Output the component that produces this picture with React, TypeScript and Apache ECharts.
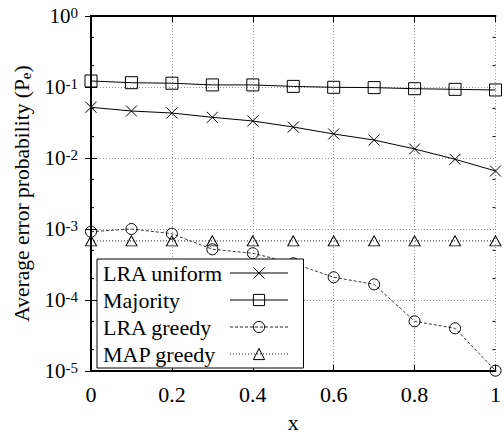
import React, { useEffect, useRef } from "react";
import * as echarts from "echarts";

const xValues = [0, 0.1, 0.2, 0.3, 0.4, 0.5, 0.6, 0.7, 0.8, 0.9, 1];
const lraUniform = [0.0518, 0.0459, 0.043, 0.0374, 0.0332, 0.0273, 0.0218, 0.0179, 0.0134, 0.0096, 0.00656];
const majority = [0.1215, 0.115, 0.113, 0.107, 0.107, 0.102, 0.099, 0.098, 0.0946, 0.0927, 0.0908];
const lraGreedy = [0.000916, 0.001, 0.000859, 0.000518, 0.000455, 0.000329, 0.000209, 0.000166, 0.0000501, 0.0000399, 0.0000101];
const mapGreedy = [0.00068, 0.00068, 0.00068, 0.00068, 0.00068, 0.00068, 0.00068, 0.00068, 0.00068, 0.00068, 0.00068];
const seriesNames = ["LRA uniform", "Majority", "LRA greedy", "MAP greedy"];
const yMin = 1e-5;
const yMax = 1;
const xMin = 0;
const xMax = 1;
const xInterval = 0.2;
const minorMultipliers = [2, 5];
const decadeExponents = [-5, -4, -3, -2, -1];

const FONT = "'Liberation Serif', 'DejaVu Serif', serif";
const CROSS = "path://M0,0L10,10M0,10L10,0";
const CLEAR = "rgba(255,255,255,0)";

export default function App() {
  const ref = useRef<HTMLDivElement>(null);
  useEffect(() => {
    if (!ref.current) return;
    const chart = echarts.init(ref.current, null, { renderer: "svg" });
    const pairs = (vals: number[]) => xValues.map((x, i) => [x, vals[i]]);
    const minorValues: number[] = [];
    decadeExponents.forEach((e) => minorMultipliers.forEach((m) => minorValues.push(m * Math.pow(10, e))));

    const yLabel = (v: number) => {
      const e = Math.round(Math.log10(v));
      return `{b|10}{s|${e}}`;
    };
    const yRich = {
      b: { fontSize: 21, fontFamily: FONT, color: "#000", lineHeight: 21, padding: [5, 0, 0, 0], verticalAlign: "bottom" },
      s: { fontSize: 15, fontFamily: FONT, color: "#000", lineHeight: 18, verticalAlign: "top" },
    };
    const gridLine = { show: true, lineStyle: { color: "#999", type: [1, 2], width: 1 } };
    const axisLine = { show: true, lineStyle: { color: "#000", width: 2 } };
    const tick = { show: true, inside: true, length: 6, lineStyle: { color: "#000", width: 1 } };

    const option: any = {
      animation: false,
      backgroundColor: "#fff",
      grid: { left: 84, right: 5, top: 16, bottom: 68 },
      legend: {
        data: seriesNames,
        orient: "vertical",
        left: 97,
        top: 259,
        align: "right",
        itemWidth: 58,
        itemHeight: 14,
        itemGap: 5,
        padding: [3, 15, 3, 6],
        borderColor: "#000",
        borderWidth: 1,
        backgroundColor: "#fff",
        selectedMode: false,
        lineStyle: { width: 1 },
        itemStyle: { borderWidth: 1 },
        formatter: (n: string) => `{t|${n}}`,
        textStyle: {
          fontSize: 22,
          fontFamily: FONT,
          color: "#000",
          rich: { t: { width: 122, align: "left", fontSize: 22, fontFamily: FONT, color: "#000", lineHeight: 22 } },
        },
      },
      xAxis: [
        {
          type: "value",
          min: xMin,
          max: xMax,
          interval: xInterval,
          position: "bottom",
          name: "x",
          nameLocation: "middle",
          nameGap: 40,
          nameTextStyle: { fontSize: 22, fontFamily: FONT, color: "#000" },
          axisLine,
          axisTick: tick,
          axisLabel: { fontSize: 22, fontFamily: FONT, color: "#000", margin: 12 },
          splitLine: gridLine,
        },
        {
          type: "value",
          min: xMin,
          max: xMax,
          interval: xInterval,
          position: "top",
          axisLine,
          axisTick: tick,
          axisLabel: { show: false },
          splitLine: { show: false },
        },
      ],
      yAxis: [
        {
          type: "log",
          logBase: 10,
          min: yMin,
          max: yMax,
          splitNumber: 5,
          position: "left",
          name: "{n|Average error probability (P}{sub|e}{n|)}",
          nameLocation: "middle",
          nameRotate: 90,
          nameGap: 58,
          nameTextStyle: {
            rich: {
              n: { fontSize: 21.5, fontFamily: FONT, color: "#000", lineHeight: 22, verticalAlign: "top" },
              sub: { fontSize: 15, fontFamily: FONT, color: "#000", lineHeight: 15, verticalAlign: "bottom", padding: [10, 0, 0, 0] },
            },
          },
          axisLine,
          axisTick: tick,
          axisLabel: { formatter: yLabel, rich: yRich, margin: 13 },
          splitLine: gridLine,
        },
        {
          type: "log",
          logBase: 10,
          min: yMin,
          max: yMax,
          splitNumber: 5,
          position: "right",
          axisLine,
          axisTick: tick,
          axisLabel: { show: false },
          splitLine: { show: false },
        },
      ],
      series: [
        {
          name: "LRA uniform",
          type: "line",
          data: pairs(lraUniform),
          symbol: CROSS,
          symbolSize: 11,
          clip: false,
          lineStyle: { color: "#000", width: 1, type: "solid" },
          itemStyle: { color: "#000", borderColor: "#000", borderWidth: 1 },
        },
        {
          name: "Majority",
          type: "line",
          data: pairs(majority),
          symbol: "rect",
          symbolSize: 12,
          clip: false,
          lineStyle: { color: "#000", width: 1, type: "solid" },
          itemStyle: { color: CLEAR, borderColor: "#000", borderWidth: 1 },
        },
        {
          name: "LRA greedy",
          type: "line",
          data: pairs(lraGreedy),
          symbol: "circle",
          symbolSize: 11,
          clip: false,
          lineStyle: { color: "#222", width: 0.9, type: [3, 2] },
          itemStyle: { color: CLEAR, borderColor: "#000", borderWidth: 1 },
        },
        {
          name: "MAP greedy",
          type: "line",
          data: pairs(mapGreedy),
          symbol: "triangle",
          symbolSize: [11, 10],
          clip: false,
          lineStyle: { color: "#222", width: 1, type: [1, 2] },
          itemStyle: { color: CLEAR, borderColor: "#000", borderWidth: 1 },
        },
        {
          type: "custom",
          coordinateSystem: "cartesian2d",
          xAxisIndex: 0,
          yAxisIndex: 0,
          silent: true,
          clip: false,
          data: minorValues.map((v) => [xMin, v]),
          encode: { x: 0, y: 1 },
          renderItem: (_params: any, api: any) => {
            const y = api.value(1);
            const l = api.coord([xMin, y]);
            const r = api.coord([xMax, y]);
            return {
              type: "group",
              children: [
                { type: "line", shape: { x1: l[0], y1: l[1], x2: l[0] + 3, y2: l[1] }, style: { stroke: "#000", lineWidth: 1 } },
                { type: "line", shape: { x1: r[0], y1: r[1], x2: r[0] - 3, y2: r[1] }, style: { stroke: "#000", lineWidth: 1 } },
              ],
            };
          },
        },
      ],
    };
    chart.setOption(option);
    return () => chart.dispose();
  }, []);
  return <div ref={ref} style={{ width: 504, height: 439, position: "absolute", left: 0, top: 0 }} />;
}
